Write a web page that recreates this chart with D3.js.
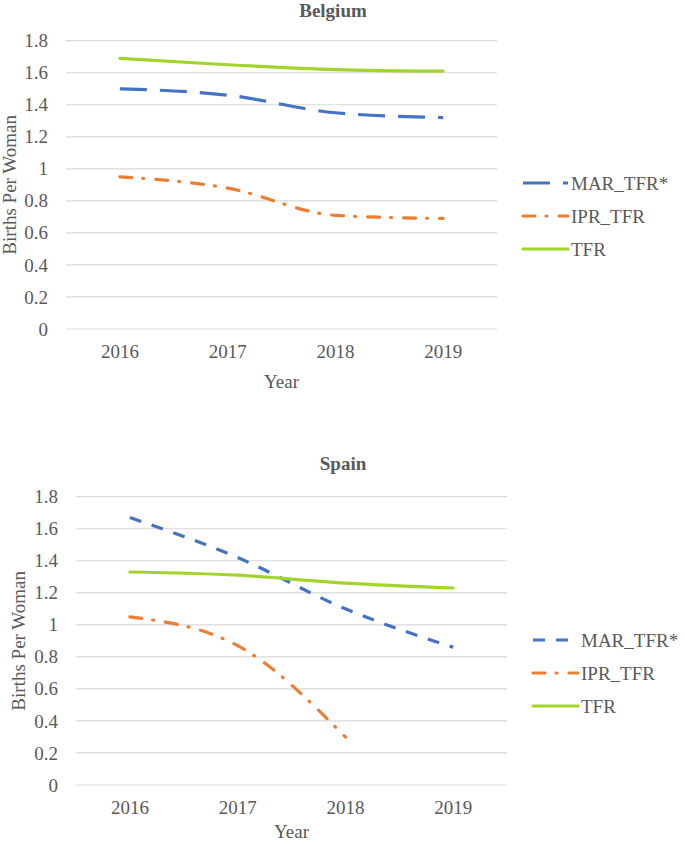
<!DOCTYPE html>
<html>
<head>
<meta charset="utf-8">
<script src="https://cdn.jsdelivr.net/npm/d3@7"></script>
<style>
  html, body { margin: 0; padding: 0; background: #fff; }
  svg { display: block; }
  svg text { font-family: "Liberation Serif", "Times New Roman", "DejaVu Serif", serif !important; fill: #595959; }
</style>
</head>
<body>
<svg id="chart" width="685" height="844"></svg>
<script>
const years = ["2016", "2017", "2018", "2019"];
const yTicks = [0, 0.2, 0.4, 0.6, 0.8, 1, 1.2, 1.4, 1.6, 1.8];
const seriesNames = ["MAR_TFR*", "IPR_TFR", "TFR"];

const belgiumMAR = [1.50, 1.46, 1.35, 1.32];
const belgiumIPR = [0.95, 0.88, 0.71, 0.69];
const belgiumTFR = [1.69, 1.65, 1.62, 1.61];

const spainMAR = [1.67, 1.42, 1.10, 0.86];
const spainIPR = [1.05, 0.87, 0.30, null];
const spainTFR = [1.33, 1.31, 1.26, 1.23];

const colors = { "MAR_TFR*": "#4472C4", "IPR_TFR": "#ED7D31", "TFR": "#A2D42A" };
const FONT = '"Liberation Serif", "Times New Roman", serif';

const svg = d3.select("#chart");

function drawPanel(opts) {
  const { title, left, right, top, bottom, data, marDash, legendX, legendY, titleX, titleY, yLabelX, xTitleY } = opts;
  const g = svg.append("g");
  const x = d3.scaleBand().domain(years).range([left, right]);
  const y = d3.scaleLinear().domain([0, 1.8]).range([bottom, top]);

  g.selectAll("line.grid").data(yTicks).enter().append("line")
    .attr("x1", left).attr("x2", right)
    .attr("y1", d => y(d)).attr("y2", d => y(d))
    .attr("stroke", "#d9d9d9").attr("stroke-width", 1.2);

  const yAxis = d3.axisLeft(y).tickValues(yTicks).tickSize(0).tickPadding(0)
    .tickFormat(d => String(+d.toFixed(1)));
  const ya = g.append("g").attr("transform", `translate(${left - 18},0)`).call(yAxis)
    .attr("font-family", FONT).attr("font-size", 19);
  ya.select(".domain").remove();
  ya.selectAll("text").attr("fill", "#595959");

  const xAxis = d3.axisBottom(x).tickSize(0).tickPadding(0);
  const xa = g.append("g").attr("transform", `translate(0,${bottom + 15})`).call(xAxis)
    .attr("font-family", FONT).attr("font-size", 19);
  xa.select(".domain").remove();
  xa.selectAll("text").attr("fill", "#595959");

  g.append("text").attr("x", titleX).attr("y", titleY).attr("text-anchor", "middle")
    .attr("font-family", FONT).attr("font-size", 19).attr("font-weight", "bold").text(title);

  g.append("text").attr("x", (left + right) / 2).attr("y", xTitleY).attr("text-anchor", "middle")
    .attr("font-family", FONT).attr("font-size", 19).text("Year");
  g.append("text").attr("transform", `translate(${yLabelX},${(top + bottom) / 2}) rotate(-90)`)
    .attr("text-anchor", "middle").attr("font-family", FONT).attr("font-size", 19).text("Births Per Woman");

  const line = d3.line()
    .defined(d => d.v != null)
    .x(d => x(d.year) + x.bandwidth() / 2)
    .y(d => y(d.v))
    .curve(d3.curveMonotoneX);

  const dashes = { "MAR_TFR*": marDash, "IPR_TFR": "12,11,1,12", "TFR": null };
  const caps = { "MAR_TFR*": "butt", "IPR_TFR": "round", "TFR": "round" };

  seriesNames.forEach((name, i) => {
    const pts = years.map((yr, j) => ({ year: yr, v: data[name][j] }));
    g.append("path").datum(pts)
      .attr("d", line)
      .attr("fill", "none")
      .attr("stroke", colors[name])
      .attr("stroke-width", 3.2)
      .attr("stroke-linecap", caps[name])
      .attr("stroke-dasharray", dashes[name]);

    const ly = legendY + i * 33;
    g.append("line").attr("x1", legendX).attr("x2", legendX + 45)
      .attr("y1", ly).attr("y2", ly)
      .attr("stroke", colors[name]).attr("stroke-width", 3.2)
      .attr("stroke-linecap", caps[name])
      .attr("stroke-dasharray", dashes[name]);
    g.append("text").attr("x", legendX + 48).attr("y", ly).attr("dy", "0.35em")
      .attr("font-family", FONT).attr("font-size", 19).text(name);
  });
}

drawPanel({
  title: "Belgium", left: 66, right: 497, top: 40.7, bottom: 329,
  data: { "MAR_TFR*": belgiumMAR, "IPR_TFR": belgiumIPR, "TFR": belgiumTFR },
  marDash: "27,13", legendX: 523, legendY: 183, titleX: 333, titleY: 17, yLabelX: 16, xTitleY: 388
});

drawPanel({
  title: "Spain", left: 76, right: 507, top: 496.7, bottom: 785,
  data: { "MAR_TFR*": spainMAR, "IPR_TFR": spainIPR, "TFR": spainTFR },
  marDash: "12,11", legendX: 533, legendY: 640, titleX: 343, titleY: 470, yLabelX: 25, xTitleY: 838
});
</script>
</body>
</html>
